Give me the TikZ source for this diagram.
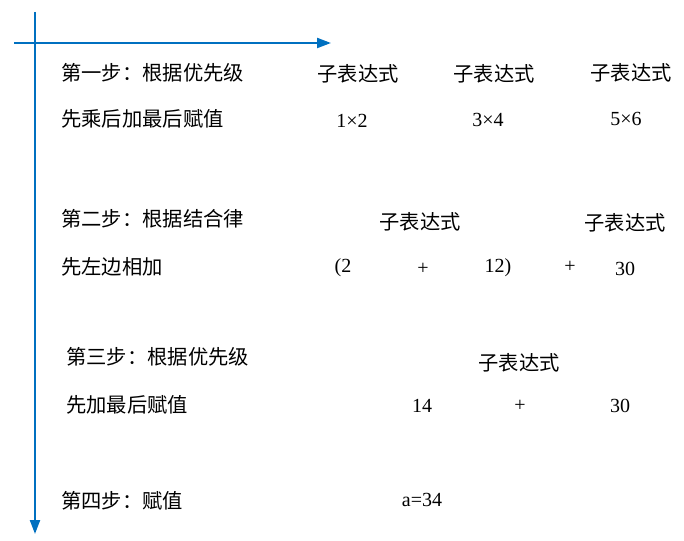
\documentclass[tikz,border=0pt]{standalone}
\usepackage{fontspec}
\setmainfont{Liberation Serif}
\newfontfamily\cjk{Noto Sans CJK SC}
\usetikzlibrary{arrows.meta}
\definecolor{axisblue}{RGB}{0,112,192}
\begin{document}
\begin{tikzpicture}[x=1pt,y=-1pt,
  axis/.style={draw=axisblue,line width=2.2pt,-{Triangle[length=14pt,width=10pt]}},
  cn/.style={inner sep=0pt,anchor=west,font=\cjk\fontsize{20.3}{22}\selectfont},
  cc/.style={inner sep=0pt,font=\cjk\fontsize{20.3}{22}\selectfont},
  num/.style={inner sep=0pt,font=\fontsize{20}{22}\selectfont}]
\useasboundingbox (0,0) rectangle (684,540);
\coordinate (hs) at (14,43);
\coordinate (he) at (331,43);
\coordinate (vs) at (35,12);
\coordinate (ve) at (35,534);
\draw[axis] (hs) -- (he);
\draw[axis] (vs) -- (ve);
% row 1
\node[cn] (s1a) at (61,73) {第一步：根据优先级};
\node[cn] (s1b) at (61,119) {先乘后加最后赋值};
\node[cc] (e1) at (358,74) {子表达式};
\node[cc] (e2) at (494,74) {子表达式};
\node[cc] (e3) at (631,73) {子表达式};
\node[num] (n1) at (352,121) {1×2};
\node[num] (n2) at (488,120) {3×4};
\node[num] (n3) at (626,119) {5×6};
% row 2
\node[cn] (s2a) at (61,219) {第二步：根据结合律};
\node[cn] (s2b) at (61,267) {先左边相加};
\node[cc] (e4) at (420,222) {子表达式};
\node[cc] (e5) at (625,223) {子表达式};
\node[num] (p1) at (343,268) {(2};
\node[num] (p2) at (423,269) {+};
\node[num] (p3) at (498,268) {12)};
\node[num] (p4) at (570,267) {+};
\node[num] (p5) at (625,269) {30};
% row 3
\node[cn] (s3a) at (66,357) {第三步：根据优先级};
\node[cn] (s3b) at (66,405) {先加最后赋值};
\node[cc] (e6) at (519,363) {子表达式};
\node[num] (q1) at (422,406) {14};
\node[num] (q2) at (520,406) {+};
\node[num] (q3) at (620,406) {30};
% row 4
\node[cn] (s4) at (61,501) {第四步：赋值};
\node[num] (r1) at (422,500) {a=34};
\end{tikzpicture}
\end{document}
